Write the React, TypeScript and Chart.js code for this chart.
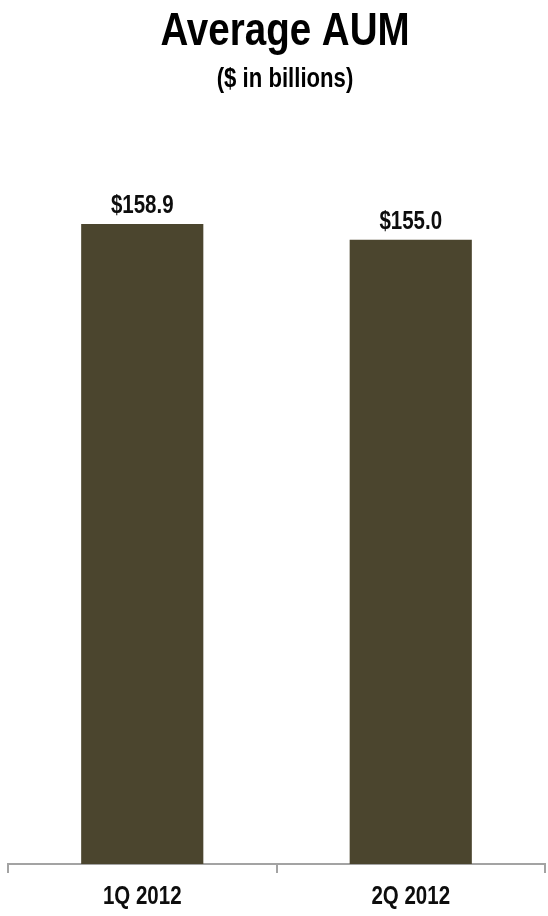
import React, { useEffect, useRef } from "react";
import { Chart, registerables } from "chart.js";

Chart.register(...registerables);

const categories: string[] = ["1Q 2012", "2Q 2012"];
const aumValues: number[] = [158.9, 155.0];
const valueLabels: string[] = ["$158.9", "$155.0"];
const titleText = "Average AUM";
const subtitleText = "($ in billions)";

const FONT = '"Liberation Sans", Arial, sans-serif';
const NARROW = 0.82;

function drawNarrow(ctx: CanvasRenderingContext2D, text: string, x: number, y: number, size: number) {
  ctx.font = `bold ${size}px ${FONT}`;
  const w = ctx.measureText(text).width;
  ctx.fillText(text, x, y, w * NARROW);
}

const textPlugin = {
  id: "narrowTexts",
  afterDraw(chart: any) {
    const ctx: CanvasRenderingContext2D = chart.ctx;
    const xScale = chart.scales.x;
    const meta = chart.getDatasetMeta(0);
    ctx.save();
    ctx.fillStyle = "#000000";
    ctx.textAlign = "center";
    ctx.textBaseline = "alphabetic";
    const cx = chart.width / 2 + 11;
    drawNarrow(ctx, titleText, cx, 45, 47);
    drawNarrow(ctx, subtitleText, cx, 87, 27);
    ctx.fillStyle = "#0d0d0d";
    meta.data.forEach((bar: any, i: number) => {
      drawNarrow(ctx, valueLabels[i], bar.x, bar.y - 11, 25);
    });
    categories.forEach((c, i) => {
      drawNarrow(ctx, c, xScale.getPixelForTick(i), xScale.top + 40, 25);
    });
    ctx.restore();
  },
};

export default function App() {
  const canvasRef = useRef<HTMLCanvasElement | null>(null);

  useEffect(() => {
    if (!canvasRef.current) return;
    const chart = new Chart(canvasRef.current, {
      type: "bar",
      data: {
        labels: categories,
        datasets: [
          {
            data: aumValues,
            backgroundColor: "#4b452e",
            borderWidth: 0,
            categoryPercentage: 1,
            barPercentage: 0.455,
          },
        ],
      },
      options: {
        responsive: false,
        animation: false,
        devicePixelRatio: 1,
        layout: { padding: { left: 8, right: 3, top: 139, bottom: 43 } },
        plugins: {
          legend: { display: false },
          tooltip: { enabled: false },
          title: { display: false },
        },
        scales: {
          x: {
            border: { display: true, color: "#a3a3a3", width: 2 },
            grid: {
              display: true,
              drawOnChartArea: false,
              drawTicks: true,
              tickLength: 9,
              color: "#a3a3a3",
              lineWidth: 2,
              offset: true,
            },
            ticks: { display: false },
          },
          y: {
            display: false,
            min: 0,
            max: 180,
          },
        },
      },
      plugins: [textPlugin],
    });
    return () => chart.destroy();
  }, []);

  return (
    <div style={{ position: "absolute", left: 0, top: 0, width: 548, height: 916, background: "#ffffff" }}>
      <canvas ref={canvasRef} width={548} height={916} style={{ display: "block" }} />
    </div>
  );
}
